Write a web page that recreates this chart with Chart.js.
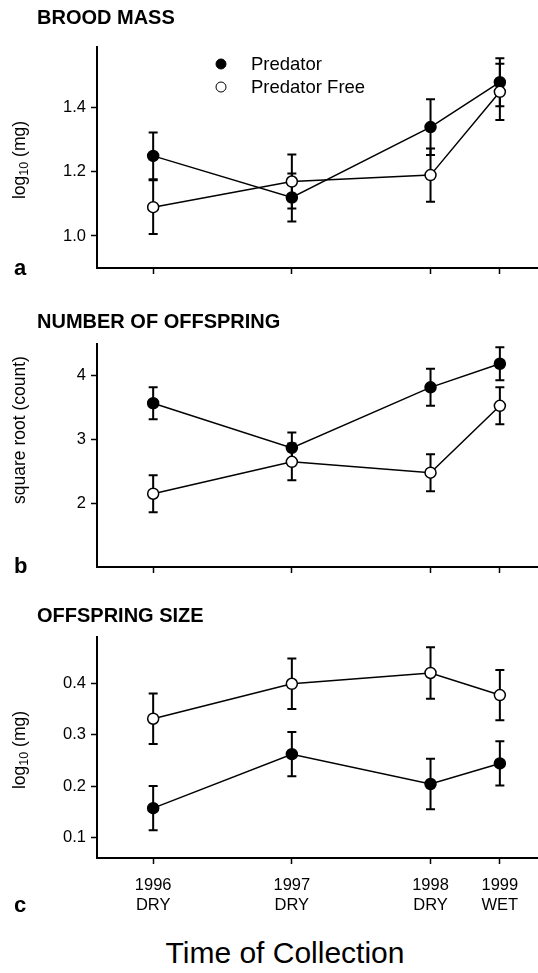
<!DOCTYPE html>
<html>
<head>
<meta charset="utf-8">
<script src="https://cdn.jsdelivr.net/npm/chart.js@4"></script>
<style>
  body { margin: 0; background: #fff; }
  #wrap { position: relative; width: 538px; height: 973px; background: #fff; font-family: 'Liberation Sans', Arial, sans-serif; color: #000; }
  canvas { position: absolute; left: 0; }
  .txt { position: absolute; white-space: nowrap; line-height: 1; transform: translate(0, -50%); }
  .title { font-weight: bold; font-size: 20px; left: 37px; }
  .letter { font-weight: bold; font-size: 22px; left: 14px; }
  .ytitle { font-size: 17.5px; transform: translate(-50%, -50%) rotate(-90deg); }
  .ytitle sub { font-size: 12.5px; vertical-align: -3px; }
  .legend { font-size: 18.5px; left: 251px; }
  .dot { position: absolute; width: 9px; height: 9px; border: 1.5px solid #000; border-radius: 50%; transform: translate(-50%, -50%); }
</style>
</head>
<body>
<div id="wrap">
  <canvas id="chartA" width="538" height="278" style="top:0px"></canvas>
  <canvas id="chartB" width="538" height="287" style="top:290px"></canvas>
  <canvas id="chartC" width="538" height="328" style="top:600px"></canvas>

  <div class="txt title" style="top:17px">BROOD MASS</div>
  <div class="txt title" style="top:321px">NUMBER OF OFFSPRING</div>
  <div class="txt title" style="top:615px">OFFSPRING SIZE</div>

  <div class="txt letter" style="top:268px">a</div>
  <div class="txt letter" style="top:566px">b</div>
  <div class="txt letter" style="top:905px">c</div>

  <div class="txt ytitle" style="left:21px; top:160px">log<sub>10</sub> (mg)</div>
  <div class="txt ytitle" style="left:20px; top:430px">square root (count)</div>
  <div class="txt ytitle" style="left:21px; top:750px">log<sub>10</sub> (mg)</div>

  <div class="dot" style="left:221px; top:64px; background:#000"></div>
  <div class="dot" style="left:221px; top:87px; background:#fff"></div>
  <div class="txt legend" style="top:64px">Predator</div>
  <div class="txt legend" style="top:87px">Predator Free</div>

  <div class="txt" style="left:285px; top:953px; font-size:30px; transform:translate(-50%,-50%)">Time of Collection</div>
</div>

<script>
// collection time, counted in seasons after the 1996 dry season
const seasons = [0, 2, 4, 5];
const yearLabels = ['1996', '1997', '1998', '1999'];
const seasonLabels = ['DRY', 'DRY', 'DRY', 'WET'];

// a - brood mass, log10 (mg)
const predMass = [1.25, 1.12, 1.34, 1.48];
const predMassErr = [0.073, 0.075, 0.087, 0.075];
const freeMass = [1.09, 1.17, 1.19, 1.45];
const freeMassErr = [0.084, 0.084, 0.083, 0.088];
const massTicks = [1.0, 1.2, 1.4];

// b - number of offspring, square root (count)
const predNum = [3.57, 2.87, 3.82, 4.19];
const predNumErr = [0.25, 0.24, 0.29, 0.26];
const freeNum = [2.15, 2.65, 2.48, 3.53];
const freeNumErr = [0.29, 0.29, 0.29, 0.29];
const numTicks = [2, 3, 4];

// c - offspring size, log10 (mg)
const predSize = [0.157, 0.262, 0.204, 0.244];
const predSizeErr = [0.043, 0.043, 0.049, 0.043];
const freeSize = [0.331, 0.399, 0.420, 0.377];
const freeSizeErr = [0.049, 0.049, 0.050, 0.049];
const sizeTicks = [0.1, 0.2, 0.3, 0.4];

const FONT = "'Liberation Sans', Arial, sans-serif";

const errorBars = {
    id: 'errorBars',
    beforeDatasetsDraw(chart) {
        const ctx = chart.ctx;
        const x = chart.scales.x;
        const y = chart.scales.y;
        ctx.save();
        ctx.strokeStyle = '#000';
        ctx.lineWidth = 2;
        chart.data.datasets.forEach(ds => {
            ds.data.forEach((pt, i) => {
                const e = ds.errors[i];
                const px = x.getPixelForValue(pt.x);
                const top = y.getPixelForValue(pt.y + e);
                const bot = y.getPixelForValue(pt.y - e);
                ctx.beginPath();
                ctx.moveTo(px, top);
                ctx.lineTo(px, bot);
                ctx.moveTo(px - 4.5, top);
                ctx.lineTo(px + 4.5, top);
                ctx.moveTo(px - 4.5, bot);
                ctx.lineTo(px + 4.5, bot);
                ctx.stroke();
            });
        });
        ctx.restore();
    }
};

function points(vals) {
    return vals.map((v, i) => ({ x: seasons[i], y: v }));
}

function makePanel(id, padTop, xHeight, pred, predErr, free, freeErr, yMin, yMax, yTicks, yDigits, showLabels) {
    const ctx = document.getElementById(id).getContext('2d');
    new Chart(ctx, {
        type: 'line',
        data: {
            datasets: [{
                label: 'Predator',
                data: points(pred),
                errors: predErr,
                order: 2,
                borderColor: '#000',
                borderWidth: 1.5,
                pointRadius: 5.5,
                pointBorderWidth: 1.5,
                pointBackgroundColor: '#000',
                pointBorderColor: '#000',
            }, {
                label: 'Predator Free',
                data: points(free),
                errors: freeErr,
                order: 1,
                borderColor: '#000',
                borderWidth: 1.5,
                pointRadius: 5.5,
                pointBorderWidth: 1.5,
                pointBackgroundColor: '#fff',
                pointBorderColor: '#000',
            }],
        },
        options: {
            responsive: false,
            devicePixelRatio: 1,
            animation: false,
            layout: { autoPadding: false, padding: { top: padTop, left: 0, right: 0, bottom: 0 } },
            plugins: { legend: { display: false }, tooltip: { enabled: false } },
            scales: {
                x: {
                    type: 'linear',
                    min: -0.81,
                    max: 5.55,
                    afterBuildTicks: s => { s.ticks = seasons.map(v => ({ value: v })); },
                    afterFit: s => { s.height = xHeight; s.paddingLeft = 0; s.paddingRight = 0; },
                    border: { display: true, color: '#000', width: 2 },
                    grid: { drawOnChartArea: false, drawTicks: true, tickLength: 6, color: '#000', tickWidth: 1.5 },
                    ticks: {
                        display: showLabels,
                        color: '#000',
                        padding: 12,
                        maxRotation: 0,
                        font: { family: FONT, size: 16.5, lineHeight: 1.2 },
                        callback: v => {
                            const i = seasons.indexOf(v);
                            return [yearLabels[i], seasonLabels[i]];
                        },
                    },
                },
                y: {
                    min: yMin,
                    max: yMax,
                    afterBuildTicks: s => { s.ticks = yTicks.map(v => ({ value: v })); },
                    afterFit: s => { s.width = 97; s.paddingTop = 0; s.paddingBottom = 0; },
                    border: { display: true, color: '#000', width: 2 },
                    grid: { drawOnChartArea: false, drawTicks: true, tickLength: 6, color: '#000', tickWidth: 1.5 },
                    ticks: {
                        color: '#000',
                        padding: 5,
                        font: { family: FONT, size: 16.5 },
                        callback: v => v.toFixed(yDigits),
                    },
                },
            },
        },
        plugins: [errorBars],
    });
}

makePanel('chartA', 47, 10, predMass, predMassErr, freeMass, freeMassErr, 0.9, 1.59, massTicks, 1, false);
makePanel('chartB', 54, 10, predNum, predNumErr, freeNum, freeNumErr, 1.0, 4.5, numTicks, 0, false);
makePanel('chartC', 37, 70, predSize, predSizeErr, freeSize, freeSizeErr, 0.06, 0.49, sizeTicks, 1, true);
</script>
</body>
</html>
